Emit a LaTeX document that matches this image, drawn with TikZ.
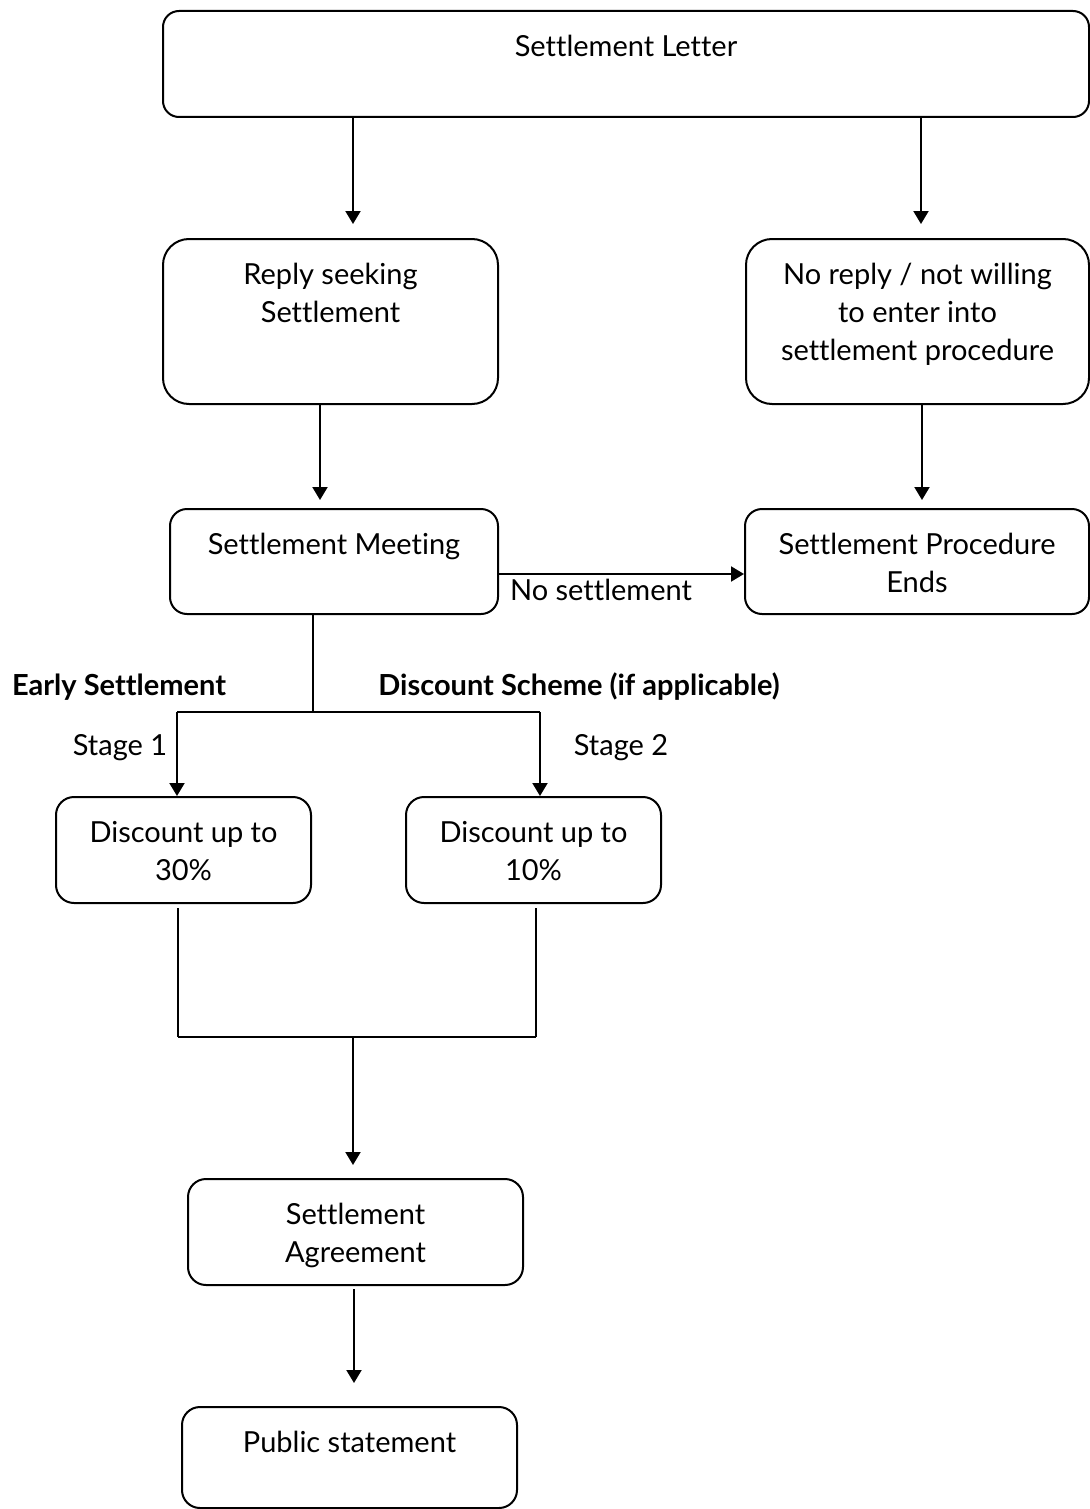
\documentclass[tikz,border=0pt]{standalone}
\usepackage{fontspec}
\setmainfont[Ligatures=NoCommon]{Lato}
\usetikzlibrary{arrows.meta}
\newcommand{\flowtext}[3]{\begin{minipage}[c][#2][t]{#1}\centering\rule{0pt}{22.75pt}#3\end{minipage}}
\begin{document}
\begin{tikzpicture}[x=0.5pt,y=-0.5pt,
    font=\fontsize{14.5}{19}\selectfont,
    flow/.style={draw,line width=1pt,inner sep=0pt,anchor=north west},
    arr/.style={line width=1pt,-{Triangle[length=6.5pt,width=7.5pt]}},
    link/.style={line width=1pt}]
  \useasboundingbox (0,0) rectangle (1090,1509);
  % boxes
  \node[flow,rounded corners=8pt] (letter) at (162,10) {\flowtext{463pt}{53pt}{Settlement Letter}};
  \node[flow,rounded corners=13pt] (reply) at (162,238) {\flowtext{167.5pt}{82.5pt}{Reply seeking\\Settlement}};
  \node[flow,rounded corners=13pt] (noreply) at (745,238) {\flowtext{171.5pt}{82.5pt}{No reply / not willing\\to enter into\\settlement procedure}};
  \node[flow,rounded corners=8.5pt] (meeting) at (169,508) {\flowtext{164pt}{52.5pt}{Settlement Meeting}};
  \node[flow,rounded corners=8.5pt] (ends) at (744,508) {\flowtext{172pt}{52.5pt}{Settlement Procedure\\Ends}};
  \node[flow,rounded corners=9pt] (disc30) at (55,796) {\flowtext{127.5pt}{53pt}{Discount up to\\30\%}};
  \node[flow,rounded corners=9pt] (disc10) at (405,796) {\flowtext{127.5pt}{53pt}{Discount up to\\10\%}};
  \node[flow,rounded corners=9pt] (agree) at (187,1178) {\flowtext{167.5pt}{53pt}{Settlement\\Agreement}};
  \node[flow,rounded corners=9pt] (public) at (181,1406) {\flowtext{167.5pt}{50.5pt}{Public statement}};
  % labels
  \node[anchor=base] (nosettle) at (601,600) {No settlement};
  \node[anchor=base] (early) at (119,695) {\bfseries Early Settlement};
  \node[anchor=base] (scheme) at (579,695) {\bfseries Discount Scheme (if applicable)};
  \node[anchor=base] (stage1) at (120,755) {Stage 1};
  \node[anchor=base] (stage2) at (621,755) {Stage 2};
  % junctions
  \coordinate (split) at (313,712);
  \coordinate (stageL) at (177,712);
  \coordinate (stageR) at (540,712);
  \coordinate (joinL) at (178,1037);
  \coordinate (joinR) at (536,1037);
  \coordinate (join) at (353,1037);
  % connectors
  \draw[arr,shorten >=7pt] (353,0 |- letter.south) -- (353,0 |- reply.north);
  \draw[arr,shorten >=7pt] (921,0 |- letter.south) -- (921,0 |- noreply.north);
  \draw[arr,shorten >=4pt] (320,0 |- reply.south) -- (320,0 |- meeting.north);
  \draw[arr,shorten >=4pt] (922,0 |- noreply.south) -- (922,0 |- ends.north);
  \draw[arr] (meeting.east |- 0,574) -- (ends.west |- 0,574);
  \draw[link] (split |- meeting.south) -- (split);
  \draw[link] (stageL) -- (stageR);
  \draw[arr] (stageL) -- (stageL |- disc30.north);
  \draw[arr] (stageR) -- (stageR |- disc10.north);
  \draw[link,shorten <=2pt] (joinL |- disc30.south) -- (joinL);
  \draw[link,shorten <=2pt] (joinR |- disc10.south) -- (joinR);
  \draw[link] (joinL) -- (joinR);
  \draw[arr,shorten >=6.5pt] (join) -- (join |- agree.north);
  \draw[arr,shorten <=1.5pt,shorten >=11.5pt] (354,0 |- agree.south) -- (354,0 |- public.north);
\end{tikzpicture}
\end{document}
